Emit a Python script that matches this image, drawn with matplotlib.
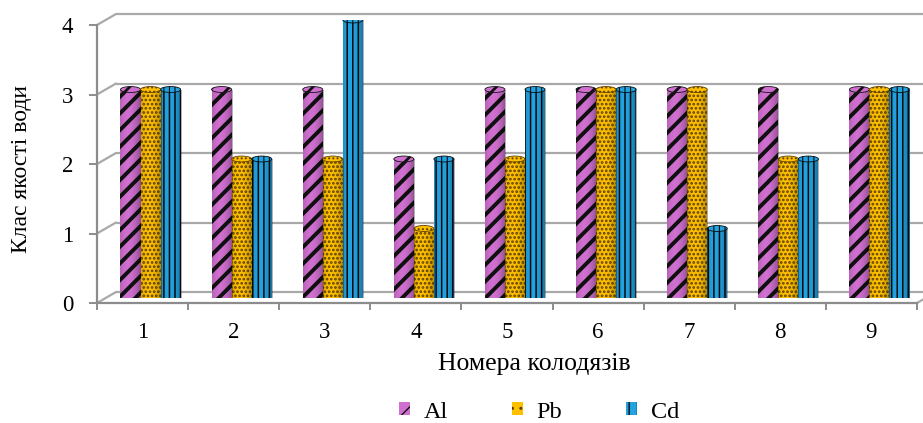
import numpy as np
import matplotlib
matplotlib.use("Agg")
import matplotlib.pyplot as plt
from matplotlib.patches import Ellipse, Patch, ConnectionPatch

# ---- data -------------------------------------------------------------
wells = ["1", "2", "3", "4", "5", "6", "7", "8", "9"]
al = [3, 3, 3, 2, 3, 3, 3, 3, 3]
pb = [3, 2, 2, 1, 2, 3, 3, 2, 3]
cd = [3, 2, 4, 2, 3, 3, 1, 2, 3]
series_names = ["Al", "Pb", "Cd"]
y_ticks = [0, 1, 2, 3, 4]

# ---- style ------------------------------------------------------------
face_colors = ["#CF6FCF", "#FFC000", "#22A2E0"]
hatch_colors = ["#111111", "#5E4000", "#0A0A0A"]
hatches = ["//", "....", "|||"]
hatch_lws = [2.8, 1.3, 1.1]
grid_color = "#A9A9A9"
axis_color = "#8C8C8C"

plt.rcParams["font.family"] = ["Liberation Serif", "DejaVu Serif"]

W, H = 923, 423
fig = plt.figure(figsize=(W / 100, H / 100), dpi=100)


def px_rect(x0, y_bottom, x1, y_top):
    """Axes rectangle from pixel coordinates measured from the top-left."""
    return [x0 / W, (H - y_bottom) / H, (x1 - x0) / W, (y_bottom - y_top) / H]


front_box = (97, 303, 917, 25)           # left, y(0), right, y(4)
back_shift = (19, -11)                   # depth offset of the back wall
bar_shift = (8, -5)                      # depth offset of the bar row


def shifted(box, d):
    x0, yb, x1, yt = box
    return (x0 + d[0], yb + d[1], x1 + d[0], yt + d[1])


n = len(wells)
xlim = (0.5, n + 0.5)
ylim = (0, 4)

back = fig.add_axes(px_rect(*shifted(front_box, back_shift)), zorder=0)
front = fig.add_axes(px_rect(*front_box), zorder=1)
bars_ax = fig.add_axes(px_rect(*shifted(front_box, bar_shift)), zorder=2)

for a in (back, front, bars_ax):
    a.set_xlim(*xlim)
    a.set_ylim(*ylim)
    a.patch.set_visible(False)
back.axis("off")
bars_ax.axis("off")

# back wall gridlines
back.hlines(y_ticks, xlim[0], xlim[1], colors=grid_color, lw=1.6,
            clip_on=False)

# side-wall connectors from the front axis to the back wall
for y in y_ticks:
    fig.add_artist(ConnectionPatch(xyA=(xlim[0], y), coordsA=front.transData,
                                   xyB=(xlim[0], y), coordsB=back.transData,
                                   color=grid_color, lw=1.6))
fig.add_artist(ConnectionPatch(xyA=(xlim[1], 0), coordsA=front.transData,
                               xyB=(xlim[1], 0), coordsB=back.transData,
                               color=grid_color, lw=1.6))

# front axes: spines, ticks and labels
for s in ("top", "right"):
    front.spines[s].set_visible(False)
for s in ("left", "bottom"):
    front.spines[s].set_color(axis_color)
    front.spines[s].set_linewidth(1.6)
front.set_yticks(y_ticks)
front.set_yticklabels([str(v) for v in y_ticks])
front.tick_params(axis="y", length=6, width=1.4, color=axis_color, pad=11,
                  labelsize=16.5)
centers = np.arange(1, n + 1)
front.set_xticks(centers)
front.set_xticklabels(wells)
front.set_xticks(np.arange(0.5, n + 1), minor=True)
front.tick_params(axis="x", which="major", length=0, pad=14, labelsize=16.5)
front.tick_params(axis="x", which="minor", length=5, width=1.4,
                  color=axis_color)

# ---- cylinders --------------------------------------------------------
bw = 0.22
cap_h = 0.085
t = np.linspace(0, 1, 48)
shade = np.zeros((1, t.size, 4))
shade[..., 3] = 0.32 * (np.abs(t - 0.38) / 0.62) ** 2

for i, vals in enumerate([al, pb, cd]):
    xs = centers + (i - 1) * bw
    bars = bars_ax.bar(xs, vals, width=bw, color=face_colors[i],
                       edgecolor=hatch_colors[i], linewidth=0,
                       hatch=hatches[i], zorder=3)
    for rect, xc, v in zip(bars, xs, vals):
        if hasattr(rect, "set_hatch_linewidth"):
            rect.set_hatch_linewidth(hatch_lws[i])
        # rounded base
        base = Ellipse((xc, 0), bw, cap_h, facecolor=face_colors[i],
                       edgecolor="none", zorder=2.9)
        bars_ax.add_patch(base)
        # cylindrical shading
        im = bars_ax.imshow(shade, extent=(xc - bw / 2, xc + bw / 2, 0, v),
                            aspect="auto", interpolation="bilinear",
                            zorder=3.1)
        im.set_clip_path(rect)
        # top cap
        cap = Ellipse((xc, v), bw, cap_h, facecolor=face_colors[i],
                      edgecolor=hatch_colors[i], lw=0.6, hatch=hatches[i],
                      zorder=3.2)
        if hasattr(cap, "set_hatch_linewidth"):
            cap.set_hatch_linewidth(hatch_lws[i] * 0.7)
        bars_ax.add_patch(cap)
bars_ax.set_xlim(*xlim)
bars_ax.set_ylim(*ylim)

# ---- labels and legend -----------------------------------------------
fig.text(22 / W, 1 - 169 / H, "Клас якості води", rotation=90,
         ha="center", va="center", fontsize=17)
fig.text(534 / W, 1 - 364 / H, "Номера колодязів", ha="center",
         va="center", fontsize=18.5)

handles = []
for i, name in enumerate(series_names):
    h = Patch(facecolor=face_colors[i], edgecolor=hatch_colors[i],
              linewidth=0, hatch=hatches[i][:2], label=name)
    handles.append(h)
leg = fig.legend(handles=handles, loc="center", ncol=3,
                 bbox_to_anchor=(539 / W, 1 - 412 / H), frameon=False,
                 fontsize=17.5, handlelength=0.45, handleheight=0.45,
                 handletextpad=0.55, columnspacing=2.65, borderpad=0)

fig.savefig("out.png", dpi=100)
